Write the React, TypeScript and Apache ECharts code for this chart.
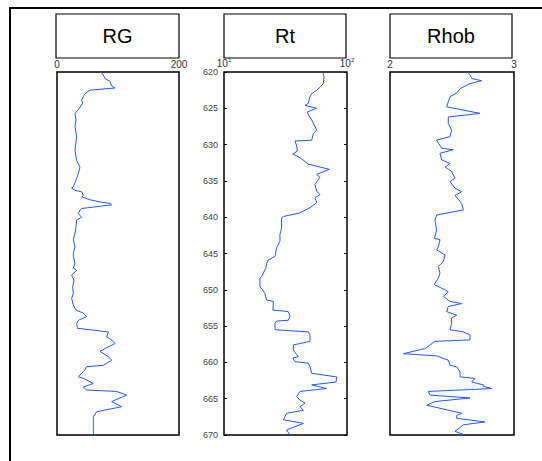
import React, { useEffect, useRef } from "react";
import * as echarts from "echarts";

// Track titles
const trackTitles = ["RG", "Rt", "Rhob"];

// Depth axis
const depthMin = 620;
const depthMax = 670;
const depthStep = 5;

// RG (gamma ray) curve
const rgDepth = [620.0, 620.4, 620.9, 621.3, 621.9, 622.2, 622.5, 623.0, 623.4, 623.9, 624.3, 625.2, 625.7, 626.6, 627.5, 628.9, 630.8, 632.2, 633.1, 634.0, 634.9, 635.8, 636.0, 636.3, 636.5, 637.0, 637.2, 637.6, 637.9, 638.1, 638.3, 638.8, 639.0, 639.5, 640.0, 640.4, 641.3, 642.2, 643.1, 644.1, 645.0, 645.4, 646.4, 647.0, 647.3, 648.0, 648.7, 649.6, 650.5, 651.2, 652.1, 652.8, 653.2, 653.7, 654.2, 654.6, 655.3, 655.5, 655.8, 656.5, 656.9, 657.4, 658.1, 658.5, 659.2, 659.7, 660.4, 660.6, 661.0, 661.5, 662.0, 662.2, 662.9, 663.4, 663.8, 664.0, 664.5, 665.4, 666.1, 666.8, 667.5, 670.0];
const rgValue = [71.6, 75.9, 78.7, 86.9, 89.6, 95.1, 54.1, 45.9, 43.2, 40.4, 42.1, 35.0, 29.5, 31.1, 29.5, 32.2, 29.5, 32.2, 37.7, 35.0, 31.1, 26.8, 24.0, 29.5, 40.4, 43.2, 40.4, 54.1, 70.5, 86.9, 89.6, 40.4, 37.7, 35.0, 40.4, 32.2, 31.1, 29.5, 26.8, 29.5, 26.8, 26.8, 29.5, 26.8, 32.2, 24.0, 27.9, 25.7, 26.8, 24.0, 26.8, 31.1, 43.2, 48.6, 35.0, 32.2, 33.3, 54.1, 84.1, 81.4, 89.6, 95.1, 78.7, 70.5, 84.1, 89.6, 75.9, 48.6, 45.9, 40.4, 35.0, 43.2, 59.6, 43.2, 48.6, 97.8, 114.2, 89.6, 106.0, 65.0, 59.6, 59.6];

// Rt (resistivity) curve
const rtDepth = [620.0, 620.6, 621.6, 622.1, 622.5, 623.0, 623.4, 624.3, 624.6, 625.0, 625.5, 625.9, 626.6, 627.5, 628.0, 628.5, 629.4, 629.5, 630.2, 630.9, 631.3, 631.8, 632.7, 633.4, 634.1, 634.5, 635.5, 636.4, 636.9, 637.3, 638.0, 638.7, 639.4, 639.9, 640.1, 641.5, 642.4, 643.3, 644.2, 645.4, 645.9, 646.4, 647.0, 647.7, 648.2, 648.4, 649.6, 650.0, 650.5, 651.4, 651.6, 652.8, 652.9, 653.0, 653.7, 654.2, 654.3, 654.6, 655.5, 655.8, 656.2, 657.1, 657.6, 658.3, 659.2, 659.4, 659.9, 660.1, 660.6, 661.5, 662.0, 662.7, 663.1, 663.6, 664.0, 664.7, 665.2, 665.6, 666.1, 666.6, 667.0, 667.9, 668.4, 669.3, 670.0];
const rtValue = [63.4, 65.0, 64.2, 60.3, 56.7, 51.6, 50.0, 48.5, 45.6, 56.7, 47.6, 48.5, 51.6, 54.9, 56.7, 53.2, 51.6, 37.8, 39.0, 39.5, 36.2, 41.5, 48.5, 71.8, 56.7, 60.3, 54.9, 56.7, 60.3, 54.9, 56.7, 50.0, 41.5, 30.4, 29.4, 29.4, 28.5, 28.5, 26.8, 26.0, 22.9, 22.2, 21.9, 20.9, 20.2, 19.6, 19.6, 20.6, 21.5, 22.2, 25.2, 25.0, 29.4, 33.3, 34.4, 33.3, 26.8, 26.0, 26.0, 48.5, 50.0, 50.0, 36.6, 36.6, 40.2, 36.2, 37.8, 48.5, 50.0, 51.6, 82.4, 81.5, 51.6, 68.4, 41.5, 39.0, 41.5, 45.6, 41.5, 44.2, 32.3, 30.4, 44.2, 32.3, 34.4];

// Rhob (density) curve
const rhobDepth = [620.0, 620.4, 620.9, 621.2, 621.6, 622.3, 622.9, 623.4, 624.1, 624.8, 625.7, 626.2, 627.1, 628.0, 628.9, 629.4, 630.1, 630.5, 630.7, 631.2, 632.1, 632.6, 633.1, 633.7, 634.6, 635.1, 636.0, 636.5, 637.0, 638.1, 639.0, 639.7, 640.4, 641.8, 642.9, 643.1, 644.1, 644.5, 645.2, 646.1, 646.8, 647.7, 648.4, 649.1, 649.3, 650.0, 650.3, 650.9, 651.6, 651.9, 652.3, 653.0, 653.5, 653.9, 654.6, 655.5, 655.8, 656.2, 656.9, 657.1, 658.1, 658.8, 659.1, 659.7, 660.4, 660.6, 661.3, 662.0, 662.2, 662.7, 663.1, 663.3, 663.6, 664.0, 664.5, 664.9, 665.4, 665.9, 667.0, 667.3, 667.7, 668.2, 668.6, 669.5, 669.9, 670.0];
const rhobValue = [2.626, 2.645, 2.659, 2.739, 2.645, 2.565, 2.538, 2.484, 2.470, 2.457, 2.726, 2.470, 2.470, 2.497, 2.484, 2.376, 2.403, 2.417, 2.511, 2.403, 2.417, 2.484, 2.444, 2.497, 2.524, 2.484, 2.524, 2.578, 2.524, 2.578, 2.591, 2.376, 2.363, 2.376, 2.358, 2.403, 2.390, 2.376, 2.444, 2.430, 2.390, 2.403, 2.390, 2.363, 2.358, 2.444, 2.470, 2.430, 2.484, 2.578, 2.470, 2.457, 2.538, 2.497, 2.497, 2.484, 2.591, 2.645, 2.645, 2.363, 2.282, 2.108, 2.376, 2.470, 2.484, 2.538, 2.565, 2.565, 2.685, 2.659, 2.753, 2.753, 2.820, 2.309, 2.323, 2.645, 2.363, 2.296, 2.578, 2.538, 2.538, 2.766, 2.591, 2.524, 2.591, 2.565];

// Track x ranges
const rgRange = [0, 200];
const rtRange = [10, 100];
const rhobRange = [2, 3];

const LINE_COLOR = "#1f5cff";
const FONT = "Liberation Sans, Arial, sans-serif";

function pairs(vals: number[], depths: number[]) {
  return vals.map((v, i) => [v, depths[i]]);
}

export default function App() {
  const ref = useRef<HTMLDivElement>(null);
  useEffect(() => {
    if (!ref.current) return;
    const chart = echarts.init(ref.current, undefined, { renderer: "svg" });

    const gridTop = 72;
    const gridH = 363;
    const tracks = [
      { left: 57, width: 122 },
      { left: 224, width: 123 },
      { left: 390, width: 124 },
    ];
    const headers = [
      { x: 56, w: 123 },
      { x: 224, w: 122 },
      { x: 390, w: 122 },
    ];

    const grids = tracks.map((t) => ({
      left: t.left,
      top: gridTop,
      width: t.width,
      height: gridH,
      show: true,
      borderColor: "#000",
      borderWidth: 1.5,
      backgroundColor: "transparent",
    }));

    const xLabelBase = {
      color: "#333",
      fontSize: 10,
      fontFamily: FONT,
      margin: 3,
    };

    const xAxes: any[] = [
      {
        gridIndex: 0,
        type: "value",
        position: "top",
        min: rgRange[0],
        max: rgRange[1],
        interval: 200,
        axisLine: { show: false },
        axisTick: { show: false },
        splitLine: { show: false },
        axisLabel: { ...xLabelBase },
      },
      {
        gridIndex: 1,
        type: "log",
        logBase: 10,
        position: "top",
        min: rtRange[0],
        max: rtRange[1],
        axisLine: { show: false },
        axisTick: { show: false },
        splitLine: { show: false },
        axisLabel: {
          ...xLabelBase,
          formatter: (v: number) =>
            Math.abs(v - 10) < 1e-6 ? "10{s|1}" : Math.abs(v - 100) < 1e-6 ? "10{s|2}" : "",
          rich: {
            s: { fontSize: 6, color: "#333", fontFamily: FONT, verticalAlign: "top", padding: [0, 0, 6, 0] },
          },
        },
      },
      {
        gridIndex: 2,
        type: "value",
        position: "top",
        min: rhobRange[0],
        max: rhobRange[1],
        interval: 1,
        axisLine: { show: false },
        axisTick: { show: false },
        splitLine: { show: false },
        axisLabel: { ...xLabelBase },
      },
    ];

    const yBase = {
      type: "value",
      inverse: true,
      min: depthMin,
      max: depthMax,
      interval: depthStep,
      splitLine: { show: false },
    };

    const yAxes: any[] = [
      { ...yBase, gridIndex: 0, axisLine: { show: false }, axisTick: { show: false }, axisLabel: { show: false } },
      {
        ...yBase,
        gridIndex: 1,
        position: "left",
        axisLine: { show: false },
        axisTick: { show: true, inside: true, length: 3, lineStyle: { color: "#000" } },
        axisLabel: { color: "#444", fontSize: 9, fontFamily: FONT, margin: 6 },
      },
      {
        ...yBase,
        gridIndex: 1,
        position: "right",
        axisLine: { show: false },
        axisTick: { show: true, inside: true, length: 3, lineStyle: { color: "#000" } },
        axisLabel: { show: false },
      },
      { ...yBase, gridIndex: 2, axisLine: { show: false }, axisTick: { show: false }, axisLabel: { show: false } },
    ];

    const lineStyle = { color: LINE_COLOR, width: 1 };
    const series: any[] = [
      { type: "line", xAxisIndex: 0, yAxisIndex: 0, data: pairs(rgValue, rgDepth), showSymbol: false, lineStyle, clip: false },
      { type: "line", xAxisIndex: 1, yAxisIndex: 1, data: pairs(rtValue, rtDepth), showSymbol: false, lineStyle, clip: false },
      { type: "line", xAxisIndex: 2, yAxisIndex: 3, data: pairs(rhobValue, rhobDepth), showSymbol: false, lineStyle, clip: false },
    ];

    const graphic: any[] = [
      {
        type: "polyline",
        shape: { points: [[10, 461], [10, 8], [542, 8]] },
        style: { stroke: "#000", lineWidth: 2, fill: null },
      },
    ];
    headers.forEach((h, i) => {
      graphic.push({
        type: "rect",
        shape: { x: h.x, y: 14, width: h.w, height: 44 },
        style: { stroke: "#000", lineWidth: 1.2, fill: "#fff" },
      });
      graphic.push({
        type: "text",
        x: h.x + h.w / 2,
        y: 36,
        style: {
          text: trackTitles[i],
          fontSize: 20,
          fontFamily: FONT,
          fill: "#000",
          align: "center",
          verticalAlign: "middle",
        },
      });
    });

    chart.setOption({
      animation: false,
      backgroundColor: "#fff",
      grid: grids,
      xAxis: xAxes,
      yAxis: yAxes,
      series,
      graphic,
    });
    return () => chart.dispose();
  }, []);
  return (
    <div
      ref={ref}
      style={{ position: "fixed", left: 0, top: 0, width: 542, height: 461 }}
    />
  );
}
